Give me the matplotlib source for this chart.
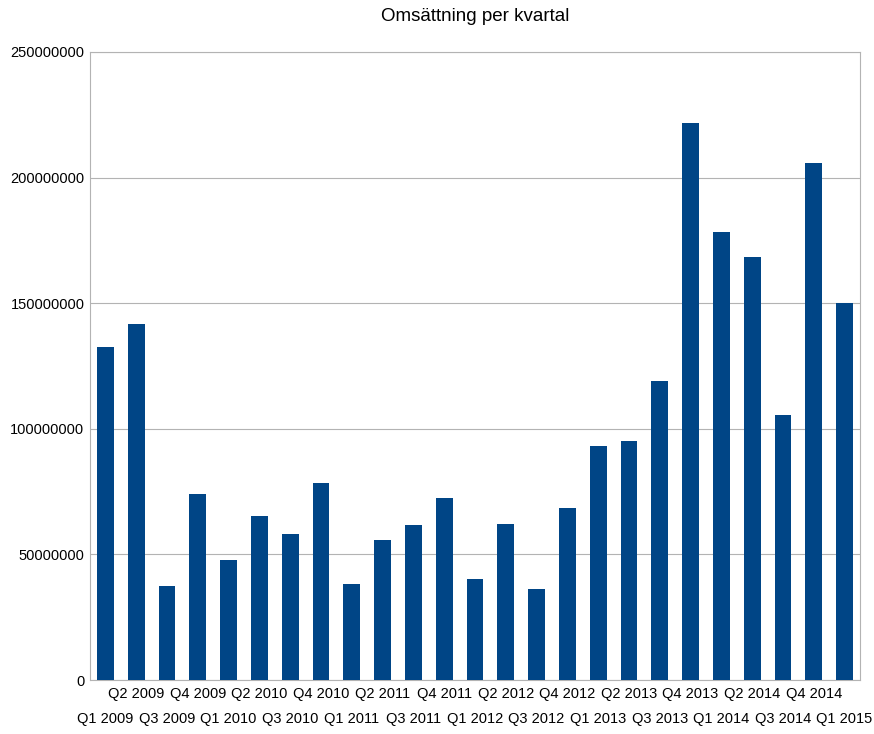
import matplotlib
matplotlib.use("Agg")
import matplotlib.pyplot as plt

quarters = ["Q1 2009","Q2 2009","Q3 2009","Q4 2009","Q1 2010","Q2 2010","Q3 2010","Q4 2010",
            "Q1 2011","Q2 2011","Q3 2011","Q4 2011","Q1 2012","Q2 2012","Q3 2012","Q4 2012",
            "Q1 2013","Q2 2013","Q3 2013","Q4 2013","Q1 2014","Q2 2014","Q3 2014","Q4 2014","Q1 2015"]
values_m = [132.6,141.7,37.4,74.0,47.8,65.3,58.1,78.4,38.2,55.7,61.7,72.5,40.2,62.1,36.2,68.5,
            93.2,95.1,119.0,221.7,178.3,168.4,105.5,205.8,150.1]
values = [v*1e6 for v in values_m]
yticks = [0,50000000,100000000,150000000,200000000,250000000]

fig = plt.figure(figsize=(8.74,7.34), dpi=100)
ax = fig.add_axes([90/874, 1-680/734, 770/874, 628/734])
x = list(range(len(quarters)))
ax.bar(x, values, width=0.55, color="#004586", zorder=3)
ax.set_xlim(-0.5, len(quarters)-0.5)
ax.set_ylim(0, 250000000)
ax.set_yticks(yticks)
ax.set_yticklabels([str(t) for t in yticks], fontsize=10.5, fontfamily="Liberation Sans")
ax.yaxis.grid(True, color="#b3b3b3", lw=0.8, zorder=0)
even = x[0::2]
odd = x[1::2]
ax.set_xticks(even)
ax.set_xticklabels(quarters[0::2], fontsize=10.5, fontfamily="Liberation Sans")
ax.set_xticks(odd, minor=True)
ax.set_xticklabels(quarters[1::2], minor=True, fontsize=10.5, fontfamily="Liberation Sans")
ax.tick_params(axis="x", which="major", length=0, pad=23)
ax.tick_params(axis="x", which="minor", length=0, pad=5)
ax.tick_params(axis="y", length=0, pad=4)
for s in ax.spines.values():
    s.set_color("#b3b3b3")
ax.set_title("Omsättning per kvartal", fontsize=13.5, fontfamily="Liberation Sans", pad=22)
fig.savefig("out.png", dpi=100)
